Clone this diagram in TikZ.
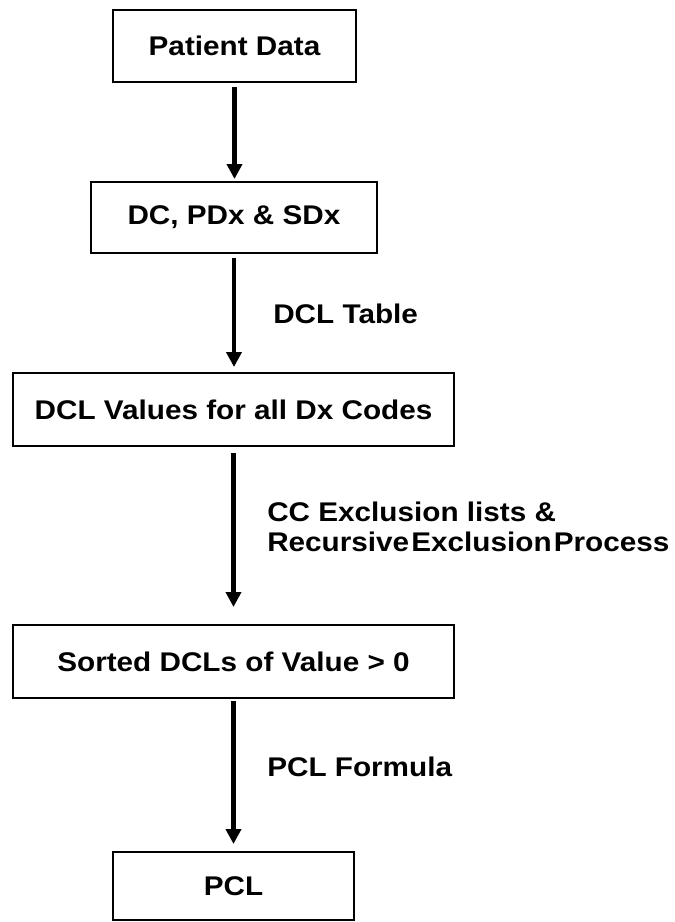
\documentclass[tikz,border=0pt]{standalone}
\usepackage{fontspec}
\setmainfont{Liberation Sans}[FakeStretch=1.1]
\usetikzlibrary{arrows.meta}
\newcommand{\flowfont}{\fontsize{20.25}{22.5}\selectfont\bfseries}

\begin{document}
\begin{tikzpicture}[x=0.75pt,y=0.75pt,yscale=-1,xscale=1,
  box/.style={draw, line width=1.5pt, inner sep=0pt, font=\flowfont},
  lbl/.style={anchor=west, inner sep=0pt, align=left, font=\flowfont},
  flow/.style={line width=3.4pt, -{Triangle[width=11.25pt,length=11.25pt]}}]
\useasboundingbox (0,0) rectangle (675,922);

% boxes
\node[box, minimum width=182.25pt, minimum height=54pt] (patient) at (234.5,46) {Patient Data};
\node[box, minimum width=214.5pt, minimum height=53.25pt] (codes) at (234,217.5) {DC, PDx \& SDx};
\node[box, minimum width=330.75pt, minimum height=54.75pt] (dclval) at (233.5,409.5) {DCL Values for all Dx Codes};
\node[box, minimum width=330.75pt, minimum height=54.75pt] (sorted) at (233.5,661.5) {Sorted DCLs of Value > 0};
\node[box, minimum width=180.75pt, minimum height=51pt] (pcl) at (233.5,886) {PCL};

% arrows
\draw[flow, shorten <=3pt, shorten >=1.5pt] (patient.south) -- (patient.south |- codes.north);
\draw[flow, shorten <=3pt, shorten >=3.75pt] (codes.south) -- (codes.south |- dclval.north);
\draw[flow, shorten <=4.5pt, shorten >=12.75pt] (dclval.south) -- (dclval.south |- sorted.north);
\draw[flow, shorten <=1.5pt, shorten >=5.25pt] (sorted.south) -- (sorted.south |- pcl.north);

% labels
\node[lbl] (tbl) at (273,314) {DCL Table};
\node[lbl] (excl) at (267,527) {CC Exclusion lists \&\\Recursive\hspace{0.08em}Exclusion\hspace{0.08em}Process};
\node[lbl] (formula) at (267,767) {PCL Formula};

\end{tikzpicture}
\end{document}
